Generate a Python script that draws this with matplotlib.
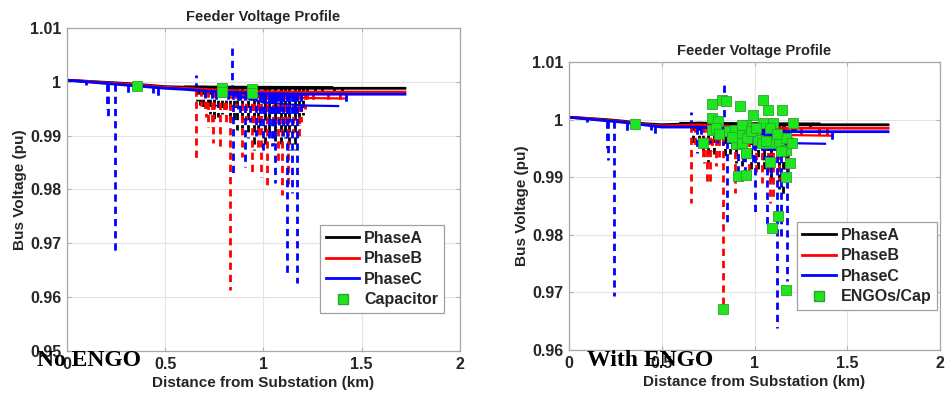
import numpy as np
import matplotlib
matplotlib.use('Agg')
from matplotlib import pyplot as plt
from matplotlib.lines import Line2D
from matplotlib.ticker import FormatStrFormatter

plt.rcParams['font.family'] = ['Liberation Sans', 'DejaVu Sans']
plt.rcParams['font.weight'] = 'bold'

# main feeder profile, distance (km) and voltage (pu) per phase
left_dist = [0.0, 0.1, 0.2, 0.3, 0.4, 0.5, 0.6, 0.7, 0.8, 1.0, 1.2, 1.4, 1.72]
left_va = [1.0003, 1.0001, 0.9999, 0.9997, 0.9994, 0.9991, 0.9990, 0.9990, 0.9989, 0.9988, 0.9988, 0.9988, 0.9988]
left_vb = [1.0003, 1.0001, 0.9998, 0.9996, 0.9993, 0.9990, 0.9988, 0.9986, 0.9984, 0.9982, 0.9981, 0.9981, 0.9981]
left_vc = [1.0003, 1.0000, 0.9997, 0.9994, 0.9991, 0.9988, 0.9986, 0.9983, 0.9981, 0.9978, 0.9977, 0.9977, 0.9977]

right_dist = [0.0, 0.1, 0.2, 0.3, 0.4, 0.5, 0.6, 0.7, 0.8, 1.0, 1.2, 1.4, 1.72]
right_va = [1.0004, 1.0002, 1.0000, 0.9997, 0.9993, 0.9991, 0.9992, 0.9994, 0.9993, 0.9991, 0.9991, 0.9991, 0.9991]
right_vb = [1.0004, 1.0002, 0.9999, 0.9996, 0.9992, 0.9989, 0.9990, 0.9991, 0.9989, 0.9986, 0.9985, 0.9985, 0.9985]
right_vc = [1.0004, 1.0001, 0.9998, 0.9995, 0.9991, 0.9987, 0.9987, 0.9987, 0.9985, 0.9981, 0.9979, 0.9979, 0.9979]

# lateral branches hanging off the main line: phase, start km, end km, start pu, end pu
left_br_phase = ['C', 'C', 'C', 'B', 'B', 'A']
left_br_x0 = [0.80, 1.00, 1.20, 0.95, 1.20, 0.60]
left_br_x1 = [1.00, 1.20, 1.38, 1.20, 1.42, 1.35]
left_br_v0 = [0.9980, 0.9962, 0.9956, 0.9978, 0.9970, 0.9991]
left_br_v1 = [0.9962, 0.9956, 0.9955, 0.9970, 0.9969, 0.9990]

right_br_phase = ['C', 'C', 'C', 'B', 'B', 'A']
right_br_x0 = [0.80, 1.00, 1.20, 0.95, 1.20, 0.60]
right_br_x1 = [1.00, 1.20, 1.38, 1.20, 1.42, 1.35]
right_br_v0 = [0.9983, 0.9965, 0.9959, 0.9980, 0.9973, 0.9994]
right_br_v1 = [0.9965, 0.9959, 0.9958, 0.9973, 0.9972, 0.9993]

# service drops (dashed): phase, distance (km), end voltage (pu)
left_drop_phase = ['C', 'C', 'C', 'C', 'C', 'C', 'C', 'C', 'B', 'A', 'B', 'B', 'A', 'B',
                   'B', 'A', 'C', 'B', 'A', 'A', 'B', 'B', 'C', 'C', 'A', 'C', 'B', 'C',
                   'A', 'B', 'A', 'C', 'B', 'B', 'C', 'A', 'B', 'C', 'C', 'C', 'A', 'B',
                   'B', 'C', 'C', 'A', 'B', 'C', 'A', 'C', 'B', 'A', 'C', 'C', 'C', 'C',
                   'C', 'C', 'B', 'A', 'B', 'A', 'B', 'C', 'A', 'B',
                   'A', 'A', 'A', 'A', 'A', 'A', 'A', 'A', 'A', 'A', 'A', 'A', 'A', 'A',
                   'B', 'B', 'B', 'B', 'B', 'B', 'B', 'B', 'B', 'B', 'B', 'B', 'B',
                   'C', 'C', 'C', 'C', 'C', 'C', 'C', 'C', 'C', 'C', 'C', 'C', 'C']
left_drop_x = [0.097, 0.205, 0.21, 0.244, 0.312, 0.44, 0.465, 0.655, 0.655, 0.677, 0.70, 0.72,
               0.72, 0.736, 0.745, 0.75, 0.76, 0.778, 0.79, 0.81, 0.81, 0.829, 0.84, 0.846,
               0.864, 0.88, 0.89, 0.906, 0.92, 0.94, 0.95, 0.96, 0.97, 0.99, 1.0, 1.01,
               1.016, 1.03, 1.045, 1.06, 1.06, 1.075, 1.093, 1.10, 1.118, 1.13, 1.126, 1.143,
               1.16, 1.169, 1.18, 1.2, 1.04, 1.07, 1.09, 1.12, 1.15, 1.05, 1.25, 1.3,
               1.33, 1.36, 1.39, 1.42, 1.40, 1.22,
               0.66, 0.69, 0.73, 0.77, 0.83, 0.85, 0.89, 0.97, 1.03, 1.09, 1.11, 1.18, 1.22, 1.26,
               0.68, 0.71, 0.75, 0.80, 0.86, 0.91, 0.95, 1.02, 1.05, 1.11, 1.15, 1.19, 1.21,
               0.70, 0.74, 0.82, 0.87, 0.93, 0.98, 1.01, 1.08, 1.13, 1.16, 1.19, 1.06, 1.10]
left_drop_v = [0.9994, 0.9950, 0.9930, 0.9680, 0.9979, 0.9980, 0.9969, 1.0013, 0.9852, 0.9957,
               0.9950, 0.9917, 0.9950, 0.9917, 0.9886, 0.9924, 0.9955, 0.9877, 0.9940, 0.9944,
               0.9920, 0.9613, 1.0072, 0.9830, 0.9910, 0.9935, 0.9860, 0.9842, 0.9895, 0.9833,
               0.9873, 0.9900, 0.9870, 0.9824, 0.9870, 0.9880, 0.9802, 0.9890, 0.9880, 0.9812,
               0.9890, 0.9850, 0.9790, 0.9900, 0.9638, 0.9873, 0.9811, 0.9793, 0.9873, 0.9626,
               0.9900, 0.9938, 0.9940, 0.9935, 0.9945, 0.9938, 0.9942, 0.9885, 0.9965, 0.9982,
               0.9966, 0.9982, 0.9966, 0.9957, 0.9982, 0.9960,
               0.9965, 0.9948, 0.9940, 0.9935, 0.9925, 0.9930, 0.9915, 0.9905, 0.9900, 0.9885,
               0.9895, 0.9920, 0.9975, 0.9980,
               0.9955, 0.9935, 0.9950, 0.9945, 0.9955, 0.9930, 0.9915, 0.9910, 0.9920, 0.9915,
               0.9905, 0.9925, 0.9950,
               0.9970, 0.9965, 0.9960, 0.9950, 0.9925, 0.9915, 0.9930, 0.9920, 0.9925, 0.9930,
               0.9945, 0.9945, 0.9948]

right_drop_phase = ['C', 'C', 'C', 'C', 'C', 'C', 'C', 'C', 'B', 'C', 'A', 'B', 'B', 'A',
                    'B', 'B', 'C', 'B', 'C', 'C', 'A', 'B', 'C', 'A', 'C', 'B', 'C', 'A',
                    'B', 'C', 'B', 'C', 'B', 'C', 'A', 'C', 'A', 'C', 'B', 'A', 'C', 'C',
                    'C', 'C', 'B', 'A', 'B', 'C', 'B',
                    'A', 'A', 'A', 'A', 'A', 'A', 'A', 'A', 'A', 'A',
                    'B', 'B', 'B', 'B', 'B', 'B', 'B', 'B', 'B', 'B',
                    'C', 'C', 'C', 'C', 'C', 'C', 'C', 'C', 'C', 'C']
right_drop_x = [0.097, 0.205, 0.21, 0.243, 0.312, 0.44, 0.465, 0.656, 0.656, 0.688, 0.70, 0.72,
                0.742, 0.75, 0.76, 0.79, 0.80, 0.828, 0.835, 0.85, 0.87, 0.895, 0.91, 0.93,
                0.95, 0.97, 1.003, 1.02, 1.04, 1.066, 1.084, 1.09, 1.10, 1.12, 1.13, 1.14,
                1.155, 1.173, 1.18, 1.2, 1.04, 1.07, 1.10, 1.12, 1.25, 1.3, 1.35, 1.42, 1.39,
                0.67, 0.72, 0.78, 0.84, 0.90, 0.98, 1.05, 1.09, 1.16, 1.22,
                0.68, 0.73, 0.77, 0.81, 0.88, 0.93, 1.01, 1.07, 1.13, 1.17,
                0.71, 0.76, 0.83, 0.88, 0.94, 0.99, 1.05, 1.08, 1.11, 1.16]
right_drop_v = [0.9996, 0.9950, 0.9930, 0.9693, 0.9980, 0.9982, 0.9972, 1.0014, 0.9855, 0.9942,
                0.9955, 0.9930, 0.9890, 0.9927, 0.9889, 0.9920, 0.9960, 0.9675, 1.0069, 0.9817,
                0.9940, 0.9872, 0.9910, 0.9920, 0.9900, 0.9900, 0.9832, 0.9910, 0.9890, 0.9815,
                0.9855, 0.9900, 0.9860, 0.9638, 0.9880, 0.9797, 0.9867, 0.9719, 0.9900, 0.9950,
                0.9940, 0.9935, 0.9943, 0.9938, 0.9968, 0.9985, 0.9968, 0.9960, 0.9968,
                0.9960, 0.9945, 0.9940, 0.9930, 0.9925, 0.9915, 0.9905, 0.9895, 0.9905, 0.9975,
                0.9950, 0.9925, 0.9945, 0.9935, 0.9945, 0.9925, 0.9905, 0.9900, 0.9895, 0.9915,
                0.9965, 0.9960, 0.9955, 0.9945, 0.9925, 0.9920, 0.9930, 0.9935, 0.9940, 0.9945]

# capacitor / ENGO locations
left_cap_x = [0.357, 0.79, 0.79, 0.94, 0.94]
left_cap_v = [0.9992, 0.9988, 0.9981, 0.9986, 0.9980]

right_engo_x = [0.356, 0.724, 0.773, 0.827, 0.845, 0.773, 0.805, 0.77, 0.79, 0.81, 0.922, 0.86,
                0.895, 0.90, 0.913, 0.954, 0.955, 0.99, 0.955, 0.935, 0.935, 1.0, 1.047, 1.07,
                1.15, 1.21, 1.10, 1.047, 1.085, 1.02, 1.04, 1.08, 1.13, 1.17, 1.17, 1.14,
                1.19, 1.084, 1.17, 1.128, 1.093, 1.17, 0.828, 0.97, 0.93, 0.88, 0.96, 1.06,
                1.12, 1.2, 0.98, 1.01]
right_engo_v = [0.9993, 0.9959, 1.0027, 1.0034, 1.0033, 1.0002, 0.9997, 0.9982, 0.9985, 0.9975,
                1.0023, 0.9980, 0.9982, 0.9958, 0.9902, 0.9903, 0.9942, 1.0008, 0.9991, 0.9974,
                0.9959, 0.9974, 1.0034, 1.0016, 1.0017, 0.9994, 0.9994, 0.9994, 0.9985, 0.9965,
                0.9959, 0.9959, 0.9959, 0.9968, 0.9948, 0.9945, 0.9924, 0.9927, 0.9900, 0.9833,
                0.9811, 0.9704, 0.9672, 0.9985, 0.9990, 0.9970, 0.9968, 0.9962, 0.9975, 0.9960,
                0.9980, 0.9985]

phase_colors = {'A': 'black', 'B': '#ff0000', 'C': '#0000ff'}
marker_green = '#1ee61e'
dash = (0, (2.6, 1.8))


def draw_panel(ax, dist, profiles, br, drops, mk_x, mk_v, mk_label, ylim, yticks):
    # dashed service drops first, phase by phase (A under B under C)
    br_phase, br_x0, br_x1, br_v0, br_v1 = br
    d_phase, d_x, d_v = drops
    for ph in ['A', 'B', 'C']:
        for p, x, v in zip(d_phase, d_x, d_v):
            if p != ph:
                continue
            top = np.interp(x, dist, profiles[ph])
            ax.plot([x, x], [top, v], color=phase_colors[ph], ls=dash, lw=2.0,
                    solid_capstyle='butt')
        for p, x0, x1, v0, v1 in zip(br_phase, br_x0, br_x1, br_v0, br_v1):
            if p == ph:
                ax.plot([x0, x1], [v0, v1], color=phase_colors[ph], lw=1.6)
    for ph, name in zip(['A', 'B', 'C'], ['PhaseA', 'PhaseB', 'PhaseC']):
        ax.plot(dist, profiles[ph], color=phase_colors[ph], lw=2.0, label=name)
    ax.plot(mk_x, mk_v, 's', color=marker_green, markeredgecolor='#30a030',
            markeredgewidth=0.6, markersize=7.5, ls='none', label=mk_label, zorder=5)

    ax.set_xlim(0, 2)
    ax.set_ylim(*ylim)
    ax.set_xticks([0, 0.5, 1, 1.5, 2])
    ax.set_yticks(yticks)
    ax.xaxis.set_major_formatter(FormatStrFormatter('%g'))
    ax.yaxis.set_major_formatter(FormatStrFormatter('%g'))
    ax.grid(True, color='#e3e3e3', lw=0.8)
    ax.set_axisbelow(True)
    ax.tick_params(direction='in', top=True, right=True, length=3, color='#b0b0b0',
                   labelsize=11.5, labelcolor='#262626', pad=4)
    for s in ax.spines.values():
        s.set_color('#a8a8a8')
        s.set_linewidth(0.9)
    ax.set_title('Feeder Voltage Profile', fontsize=10.5, fontweight='bold',
                 color='#262626', pad=5)
    ax.set_xlabel('Distance from Substation (km)', fontsize=11, fontweight='bold',
                  color='#262626', labelpad=3)
    ax.set_ylabel('Bus Voltage (pu)', fontsize=11, fontweight='bold', color='#262626',
                  labelpad=2)


fig = plt.figure(figsize=(9.46, 4.04), dpi=100)
ax1 = fig.add_axes([0.0708, 0.1312, 0.4154, 0.7995])
ax2 = fig.add_axes([0.6015, 0.1337, 0.3922, 0.7129])

draw_panel(ax1, left_dist, {'A': left_va, 'B': left_vb, 'C': left_vc},
           (left_br_phase, left_br_x0, left_br_x1, left_br_v0, left_br_v1),
           (left_drop_phase, left_drop_x, left_drop_v),
           left_cap_x, left_cap_v, 'Capacitor', (0.95, 1.01),
           [0.95, 0.96, 0.97, 0.98, 0.99, 1.0, 1.01])
draw_panel(ax2, right_dist, {'A': right_va, 'B': right_vb, 'C': right_vc},
           (right_br_phase, right_br_x0, right_br_x1, right_br_v0, right_br_v1),
           (right_drop_phase, right_drop_x, right_drop_v),
           right_engo_x, right_engo_v, 'ENGOs/Cap', (0.96, 1.01),
           [0.96, 0.97, 0.98, 0.99, 1.0, 1.01])

for ax, anchor in [(ax1, (0.959, 0.118)), (ax2, (0.992, 0.139))]:
    handles = [Line2D([], [], color='black', lw=2.0),
               Line2D([], [], color='#ff0000', lw=2.0),
               Line2D([], [], color='#0000ff', lw=2.0),
               Line2D([], [], marker='s', color=marker_green, markeredgecolor='#30a030',
                      markersize=7.5, ls='none')]
    labels = [h.get_label() for h in ax.get_lines()[-4:]]
    leg = ax.legend(handles, labels, loc='lower right', bbox_to_anchor=anchor,
                    fontsize=11.5, frameon=True, fancybox=False, framealpha=1,
                    edgecolor='#a0a0a0', handlelength=2.1, handletextpad=0.3,
                    labelspacing=0.35, borderpad=0.35, borderaxespad=0)
    leg.get_frame().set_linewidth(0.9)
    for t in leg.get_texts():
        t.set_color('#262626')

# panel captions, drawn over the tick labels as in the source figure
fig.text(0.039, 0.095, 'No ENGO', family=['Liberation Serif', 'DejaVu Serif'],
         fontweight='bold', fontsize=17, color='black', zorder=10)
fig.text(0.62, 0.095, 'With ENGO', family=['Liberation Serif', 'DejaVu Serif'],
         fontweight='bold', fontsize=17, color='black', zorder=10)

fig.savefig('out.png', dpi=100)
